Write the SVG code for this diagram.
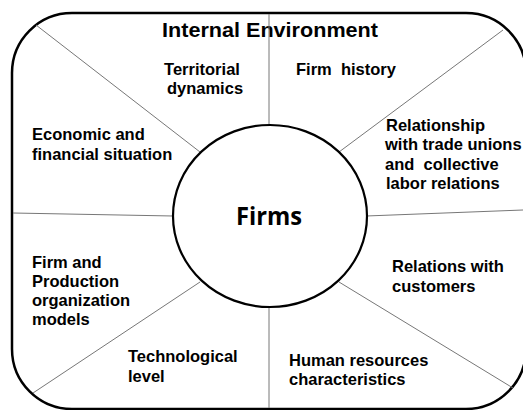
<svg xmlns="http://www.w3.org/2000/svg" width="523" height="410" viewBox="0 0 523 410">
<style>
.frame{fill:#fff;stroke:#000;stroke-width:2.5}
.hub{fill:#fff;stroke:#000;stroke-width:2.2}
.sep{stroke:#777;stroke-width:1;fill:none}
.lbl{font-family:"Liberation Sans",Arial,sans-serif;font-weight:bold;font-size:16.5px;fill:#000}
.title{font-family:"Liberation Sans",Arial,sans-serif;font-weight:bold;font-size:21px;fill:#000}
.hubt{font-family:"Open Sans","Noto Sans",sans-serif;font-weight:700;font-size:25px;fill:#000}
</style>
<rect width="523" height="410" fill="#fff"/>
<g id="frame">
<rect class="frame" x="12" y="13" width="514" height="396" rx="60" ry="60"/>
<text class="title" x="270" y="37" text-anchor="middle" textLength="216" lengthAdjust="spacingAndGlyphs">Internal Environment</text>
</g>
<g id="connectors">
<line class="sep" x1="269" y1="14" x2="269" y2="125"/>
<line class="sep" x1="269" y1="307" x2="269" y2="408"/>
<line class="sep" x1="13" y1="213" x2="173" y2="216"/>
<line class="sep" x1="366" y1="216" x2="523" y2="210"/>
<line class="sep" x1="36" y1="25" x2="200" y2="152"/>
<line class="sep" x1="503" y1="30" x2="339" y2="152"/>
<line class="sep" x1="33" y1="393" x2="200" y2="282"/>
<line class="sep" x1="513" y1="388" x2="339" y2="282"/>
</g>
<g id="firms">
<ellipse class="hub" cx="270" cy="216" rx="97" ry="91"/>
<text class="hubt" x="269" y="225" text-anchor="middle" textLength="66" lengthAdjust="spacingAndGlyphs">Firms</text>
</g>
<g id="territorial">
<text class="lbl" x="202" y="75" text-anchor="middle">Territorial</text>
<text class="lbl" x="205" y="94" text-anchor="middle">dynamics</text>
</g>
<g id="history">
<text class="lbl" x="296" y="75" xml:space="preserve">Firm  history</text>
</g>
<g id="unions">
<text class="lbl" x="386" y="131">Relationship</text>
<text class="lbl" x="385" y="150">with trade unions</text>
<text class="lbl" x="385" y="170" xml:space="preserve">and  collective</text>
<text class="lbl" x="386" y="189">labor relations</text>
</g>
<g id="economic">
<text class="lbl" x="32" y="140">Economic and</text>
<text class="lbl" x="32" y="160">financial situation</text>
</g>
<g id="organization">
<text class="lbl" x="32" y="268">Firm and</text>
<text class="lbl" x="32" y="287">Production</text>
<text class="lbl" x="32" y="306">organization</text>
<text class="lbl" x="32" y="325">models</text>
</g>
<g id="customers">
<text class="lbl" x="392" y="272">Relations with</text>
<text class="lbl" x="392" y="292">customers</text>
</g>
<g id="technological">
<text class="lbl" x="128" y="362">Technological</text>
<text class="lbl" x="128" y="382">level</text>
</g>
<g id="human">
<text class="lbl" x="289" y="366">Human resources</text>
<text class="lbl" x="289" y="385">characteristics</text>
</g>
</svg>
